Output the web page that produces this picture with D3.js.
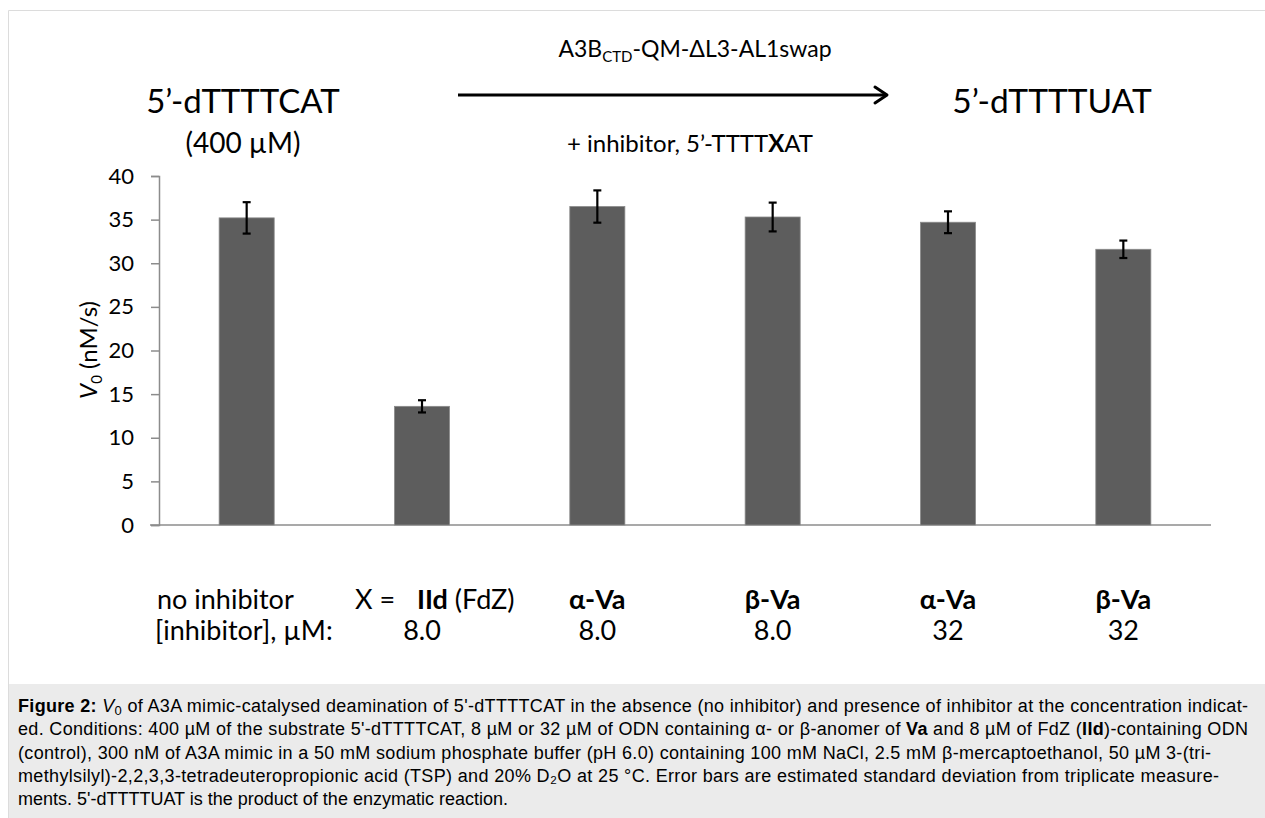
<!DOCTYPE html>
<html>
<head>
<meta charset="utf-8">
<script src="https://cdn.jsdelivr.net/npm/d3@7"></script>
<style>
  body { margin: 0; background: #fff; }
  svg { display: block; }
</style>
</head>
<body>
<div id="fig"></div>
<script>

// data
var categories = ["none", "IId", "aVa8", "bVa8", "aVa32", "bVa32"];
var rates = [35.2, 13.6, 36.5, 35.3, 34.7, 31.6];
var rateErr = [1.8, 0.7, 1.85, 1.65, 1.25, 1.0];
var yTicks = [0, 5, 10, 15, 20, 25, 30, 35, 40];
var anomerLabels = ["", "", "α-Va", "β-Va", "α-Va", "β-Va"];
var concLabels = ["", "8.0", "8.0", "8.0", "32", "32"];

var captionLines = [
  "of A3A mimic-catalysed deamination of 5'-dTTTTCAT in the absence (no inhibitor) and presence of inhibitor at the concentration indicat-",
  "ed. Conditions: 400 µM of the substrate 5'-dTTTTCAT, 8 µM or 32 µM of ODN containing α- or β-anomer of |Va| and 8 µM of FdZ (|IId|)-containing ODN",
  "(control), 300 nM of A3A mimic in a 50 mM sodium phosphate buffer (pH 6.0) containing 100 mM NaCl, 2.5 mM β-mercaptoethanol, 50 µM 3-(tri-",
  "methylsilyl)-2,2,3,3-tetradeuteropropionic acid (TSP) and 20% D₂O at 25 °C. Error bars are estimated standard deviation from triplicate measure-",
  "ments. 5'-dTTTTUAT is the product of the enzymatic reaction."
];
var captionWidths = [1230, 1230, 1193, 1201, null];

var svgWidth = 1265;
var svgHeight = 818;
var font = "Lato, 'Open Sans', sans-serif";

var svg = d3.select("#fig")
  .append("svg")
  .attr("width", svgWidth)
  .attr("height", svgHeight);

// figure frame
svg.append("path")
  .attr("d", "M8.5,818 V10.5 H1265")
  .attr("fill", "none")
  .attr("stroke", "#dcdcdc")
  .attr("stroke-width", 1);

var x = d3.scaleBand()
  .domain(categories)
  .range([159, 1211])
  .paddingInner(0.686)
  .paddingOuter(0.343);

var y = d3.scaleLinear()
  .domain([0, 40])
  .range([525, 176]);

var chart = svg.append("g");

// x axis line (no ticks)
chart.append("line")
  .attr("x1", 150).attr("x2", 1211)
  .attr("y1", y(0)).attr("y2", y(0))
  .attr("stroke", "#8c8c8c")
  .attr("stroke-width", 1.5);

var leftAxis = d3.axisLeft(y)
  .tickValues(yTicks)
  .tickSize(8)
  .tickPadding(17);

var yAxis = chart.append("g")
  .attr("transform", "translate(159,0)")
  .call(leftAxis);
yAxis.select(".domain").attr("stroke", "#8c8c8c").attr("stroke-width", 1.5);
yAxis.selectAll(".tick line").attr("stroke", "#8c8c8c").attr("stroke-width", 1.5);
yAxis.selectAll(".tick text")
  .attr("font-family", font)
  .attr("font-size", 22)
  .attr("fill", "#000");

// bars
chart.selectAll("rect.bar")
  .data(rates)
  .enter()
  .append("rect")
  .attr("class", "bar")
  .attr("x", (d, i) => x(categories[i]))
  .attr("width", x.bandwidth())
  .attr("y", d => y(d))
  .attr("height", d => y(0) - y(d))
  .attr("fill", "#5d5d5d")
  .attr("stroke", "#8a8a8a")
  .attr("stroke-width", 0.8);

// error bars
var errG = chart.selectAll("g.err")
  .data(rates)
  .enter()
  .append("g")
  .attr("class", "err")
  .attr("stroke", "#000")
  .attr("stroke-width", 2.2);

errG.append("line")
  .attr("x1", (d, i) => x(categories[i]) + x.bandwidth() / 2)
  .attr("x2", (d, i) => x(categories[i]) + x.bandwidth() / 2)
  .attr("y1", (d, i) => y(d + rateErr[i]))
  .attr("y2", (d, i) => y(d - rateErr[i]));
[1, -1].forEach(function(s) {
  errG.append("line")
    .attr("x1", (d, i) => x(categories[i]) + x.bandwidth() / 2 - 4)
    .attr("x2", (d, i) => x(categories[i]) + x.bandwidth() / 2 + 4)
    .attr("y1", (d, i) => y(d + s * rateErr[i]))
    .attr("y2", (d, i) => y(d + s * rateErr[i]));
});

// y axis title
var yTitle = chart.append("text")
  .attr("transform", "translate(97,350) rotate(-90)")
  .attr("text-anchor", "middle")
  .attr("font-family", font)
  .attr("font-size", 24);
yTitle.append("tspan").attr("font-style", "italic").text("V");
yTitle.append("tspan").attr("font-size", 15).attr("dy", 5).text("0");
yTitle.append("tspan").attr("dy", -5).text(" (nM/s)");

// reaction scheme above the plot
var scheme = svg.append("g").attr("font-family", font).attr("fill", "#000");

scheme.append("text")
  .attr("x", 243).attr("y", 113)
  .attr("text-anchor", "middle")
  .attr("font-size", 33)
  .text("5’-dTTTTCAT");
scheme.append("text")
  .attr("x", 243).attr("y", 153)
  .attr("text-anchor", "middle")
  .attr("font-size", 28)
  .text("(400 µM)");
scheme.append("text")
  .attr("x", 1052).attr("y", 113)
  .attr("text-anchor", "middle")
  .attr("font-size", 33.5)
  .text("5’-dTTTTUAT");

var enz = scheme.append("text")
  .attr("x", 695).attr("y", 57)
  .attr("text-anchor", "middle")
  .attr("font-size", 23);
enz.append("tspan").text("A3B");
enz.append("tspan").attr("font-size", 15).attr("dy", 5).text("CTD");
enz.append("tspan").attr("dy", -5).text("-QM-ΔL3-AL1swap");

var inh = scheme.append("text")
  .attr("x", 690).attr("y", 152)
  .attr("text-anchor", "middle")
  .attr("font-size", 24);
inh.append("tspan").text("+ inhibitor, 5’-TTTT");
inh.append("tspan").attr("font-weight", "bold").text("X");
inh.append("tspan").text("AT");

scheme.append("line")
  .attr("x1", 458).attr("x2", 886)
  .attr("y1", 95).attr("y2", 95)
  .attr("stroke", "#000").attr("stroke-width", 3);
scheme.append("path")
  .attr("d", "M875,87 L887,95 L875,103")
  .attr("fill", "none")
  .attr("stroke", "#000")
  .attr("stroke-width", 3)
  .attr("stroke-linecap", "round")
  .attr("stroke-linejoin", "round");

// labels under the bars
var lab = svg.append("g").attr("font-family", font).attr("font-size", 27).attr("fill", "#000");

lab.append("text").attr("x", 157).attr("y", 609).text("no inhibitor");
var xl = lab.append("text").attr("y", 609);
xl.append("tspan").attr("x", 355).text("X =");
xl.append("tspan").attr("x", 417).attr("font-weight", "bold").text("IId");
xl.append("tspan").text(" (FdZ)");
lab.append("text").attr("x", 155).attr("y", 640).text("[inhibitor], µM:");

lab.selectAll("text.anomer")
  .data(anomerLabels)
  .enter()
  .append("text")
  .attr("class", "anomer")
  .attr("x", (d, i) => x(categories[i]) + x.bandwidth() / 2)
  .attr("y", 609)
  .attr("text-anchor", "middle")
  .attr("font-weight", "bold")
  .text(d => d);

lab.selectAll("text.conc")
  .data(concLabels)
  .enter()
  .append("text")
  .attr("class", "conc")
  .attr("x", (d, i) => x(categories[i]) + x.bandwidth() / 2)
  .attr("y", 640)
  .attr("text-anchor", "middle")
  .text(d => d);

// caption box
svg.append("rect")
  .attr("x", 9).attr("y", 684)
  .attr("width", svgWidth - 9).attr("height", svgHeight - 684)
  .attr("fill", "#ebebeb");

var cap = svg.append("g")
  .attr("font-family", "'Liberation Sans', Arial, sans-serif")
  .attr("font-size", 18)
  .attr("fill", "#000");

captionLines.forEach(function(line, i) {
  var t = cap.append("text")
    .attr("x", 18)
    .attr("y", 712 + i * 23.3);
  if (captionWidths[i]) {
    t.attr("textLength", captionWidths[i]).attr("lengthAdjust", "spacing");
  }
  if (i == 0) {
    t.append("tspan").attr("font-weight", "bold").text("Figure 2: ");
    t.append("tspan").attr("font-style", "italic").text("V");
    t.append("tspan").attr("font-size", 13).attr("dy", 3).text("0");
    t.append("tspan").attr("dy", -3).text(" ");
  }
  // |...| marks bold words
  line.split("|").forEach(function(part, k) {
    t.append("tspan").attr("font-weight", k % 2 ? "bold" : null).text(part);
  });
});

</script>
</body>
</html>
